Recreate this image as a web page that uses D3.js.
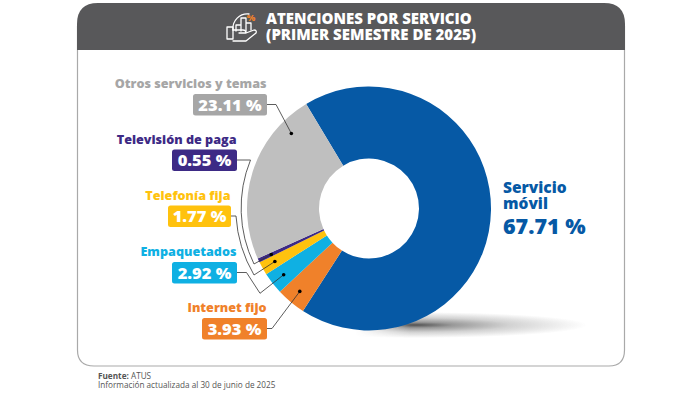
<!DOCTYPE html>
<html>
<head>
<meta charset="utf-8">
<script src="https://d3js.org/d3.v7.min.js"></script>
<style>
  html, body { margin: 0; padding: 0; background: #fff; }
  text { font-family: "Open Sans", Lato, sans-serif; }
</style>
</head>
<body>
<div id="chart"></div>
<script>
const categories = ['Servicio móvil', 'Internet fijo', 'Empaquetados', 'Telefonía fija', 'Televisión de paga', 'Otros servicios y temas'];
const values = [67.71, 3.93, 2.92, 1.77, 0.55, 23.11];
const sliceColors = ['#0659a5', '#f0812a', '#0fb0e3', '#ffc20e', '#3d2a85', '#bfbfbf'];
const labelColors = ['#0659a5', '#f0812a', '#0fb0e3', '#ffc20e', '#3d2a85', '#a6a6a6'];
const titleLines = ['ATENCIONES POR SERVICIO', '(PRIMER SEMESTRE DE 2025)'];

const width = 700, height = 395;
const cx = 369, cy = 208.5, outerR = 122, innerR = 50;

const svg = d3.select('#chart').append('svg')
  .attr('width', width)
  .attr('height', height)
  .style('display', 'block');

// shadow under the donut, faded in from the left with a mask
const defs = svg.append('defs');
const shadowGrad = defs.append('radialGradient').attr('id', 'shadow');
shadowGrad.append('stop').attr('offset', '0%').attr('stop-color', '#333').attr('stop-opacity', 0.85);
shadowGrad.append('stop').attr('offset', '22%').attr('stop-color', '#333').attr('stop-opacity', 0.5);
shadowGrad.append('stop').attr('offset', '55%').attr('stop-color', '#333').attr('stop-opacity', 0.22);
shadowGrad.append('stop').attr('offset', '100%').attr('stop-color', '#333').attr('stop-opacity', 0);
const fadeGrad = defs.append('linearGradient').attr('id', 'shadowFade')
  .attr('gradientUnits', 'userSpaceOnUse')
  .attr('x1', 355).attr('x2', 410).attr('y1', 0).attr('y2', 0);
fadeGrad.append('stop').attr('offset', '0%').attr('stop-color', '#000');
fadeGrad.append('stop').attr('offset', '100%').attr('stop-color', '#fff');
defs.append('mask').attr('id', 'shadowMask')
  .attr('maskUnits', 'userSpaceOnUse')
  .attr('x', 0).attr('y', 0).attr('width', width).attr('height', height)
  .append('rect').attr('width', width).attr('height', height).attr('fill', 'url(#shadowFade)');

// card and header
svg.append('path')
  .attr('d', 'M77.5 26 V350 Q77.5 366 94 366 H609 Q624.5 366 624.5 350 V26')
  .attr('fill', '#fff')
  .attr('stroke', '#a9a9a9')
  .attr('stroke-width', 1.2);
svg.append('path')
  .attr('d', 'M77 50 V24 Q77 3 98 3 H604 Q625 3 625 24 V50 Z')
  .attr('fill', '#58585a');

// header icon
const icon = svg.append('g')
  .attr('fill', 'none')
  .attr('stroke', '#fff')
  .attr('stroke-width', 1.3)
  .attr('stroke-linejoin', 'round')
  .attr('stroke-linecap', 'round');
icon.append('path').attr('d', 'M233 30 A14.5 14.5 0 0 1 249 14');
icon.append('path').attr('d', 'M236 31 V25 H241 V31 M241 31 V18 H246 V31 M246 31 V23 H251 V30');
icon.append('path').attr('d', 'M227 27 H233 V39 H227 Z');
icon.append('path').attr('d', 'M233 30 H243 Q246 30 246 33 H239 M246 33 L254 30 Q257 30 256 33 L246 41 H233');
svg.append('text')
  .attr('x', 251).attr('y', 21)
  .attr('font-size', 9).attr('font-weight', 800)
  .attr('fill', '#f0812a')
  .attr('text-anchor', 'middle')
  .text('%');

// title
svg.append('g').selectAll('text')
  .data(titleLines)
  .join('text')
  .attr('x', 266)
  .attr('y', (d, i) => 23.5 + i * 16.5)
  .attr('fill', '#fff')
  .attr('font-size', 15)
  .attr('font-weight', 800)
  .text(d => d);

svg.append('g').attr('mask', 'url(#shadowMask)')
  .append('ellipse')
  .attr('cx', 415).attr('cy', 325)
  .attr('rx', 172).attr('ry', 13)
  .attr('fill', 'url(#shadow)');

// donut
const startAngle = -31 * Math.PI / 180;
const pie = d3.pie()
  .sort(null)
  .value(d => d)
  .startAngle(startAngle)
  .endAngle(startAngle + 2 * Math.PI);
const arc = d3.arc().innerRadius(innerR).outerRadius(outerR);
const slices = pie(values);

const donut = svg.append('g').attr('transform', `translate(${cx},${cy})`);
donut.selectAll('path')
  .data(slices)
  .join('path')
  .attr('d', arc)
  .attr('fill', (d, i) => sliceColors[i]);

// labels, skipping the blue one which sits on the right without a box
const labelLayout = [
  null,
  { right: 267, top: 318, w: 65, elbow: 'H272' },
  { right: 237, top: 262, w: 65, elbow: 'H246.5 L260 293.3' },
  { right: 231, top: 205.5, w: 63, elbow: 'H236 A133 133 0 0 0 254 275' },
  { right: 237, top: 149.5, w: 65, elbow: 'H250.5 A128 128 0 0 0 254 264' },
  { right: 267, top: 94, w: 74, elbow: 'H276' }
];
const dotPosition = [0.5, 0.5, 0.5, 0.5, 0.5, 0.82];
const dotRadius = 108;

const labels = svg.append('g');
categories.forEach((name, i) => {
  const l = labelLayout[i];
  if (!l) return;
  const s = slices[i];
  const angle = s.startAngle + (s.endAngle - s.startAngle) * dotPosition[i];
  const [dx, dy] = d3.pointRadial(angle, dotRadius);
  const midY = l.top + 10.5;

  labels.append('path')
    .attr('d', `M${l.right} ${midY} ${l.elbow} L${cx + dx} ${cy + dy}`)
    .attr('fill', 'none')
    .attr('stroke', '#333')
    .attr('stroke-width', 0.8);
  labels.append('circle')
    .attr('cx', cx + dx).attr('cy', cy + dy)
    .attr('r', 1.8)
    .attr('fill', '#000');

  labels.append('rect')
    .attr('x', l.right - l.w).attr('y', l.top)
    .attr('width', l.w).attr('height', 21.5)
    .attr('rx', 2.5)
    .attr('fill', labelColors[i]);
  labels.append('text')
    .attr('x', l.right - l.w / 2).attr('y', l.top + 16.5)
    .attr('text-anchor', 'middle')
    .attr('fill', '#fff')
    .attr('font-size', 16.5)
    .attr('font-weight', 800)
    .text(values[i].toFixed(2) + ' %');
  labels.append('text')
    .attr('x', l.right - 0.5).attr('y', l.top - 6)
    .attr('text-anchor', 'end')
    .attr('fill', labelColors[i])
    .attr('font-size', 12.6)
    .attr('font-weight', 800)
    .text(name);
});

// blue label
const blue = svg.append('g').attr('fill', labelColors[0]).attr('font-weight', 800);
blue.append('text').attr('x', 503).attr('y', 193).attr('font-size', 15.5).text('Servicio');
blue.append('text').attr('x', 503).attr('y', 209).attr('font-size', 15.5).text('móvil');
blue.append('text').attr('x', 503).attr('y', 234).attr('font-size', 21.5).text(values[0].toFixed(2) + ' %');

// footer
const foot = svg.append('g').attr('fill', '#555').attr('font-size', 8.2);
const src = foot.append('text').attr('x', 98).attr('y', 379);
src.append('tspan').attr('font-weight', 700).text('Fuente: ');
src.append('tspan').text('ATUS');
foot.append('text').attr('x', 98).attr('y', 388).text('Información actualizada al 30 de junio de 2025');
</script>
</body>
</html>
